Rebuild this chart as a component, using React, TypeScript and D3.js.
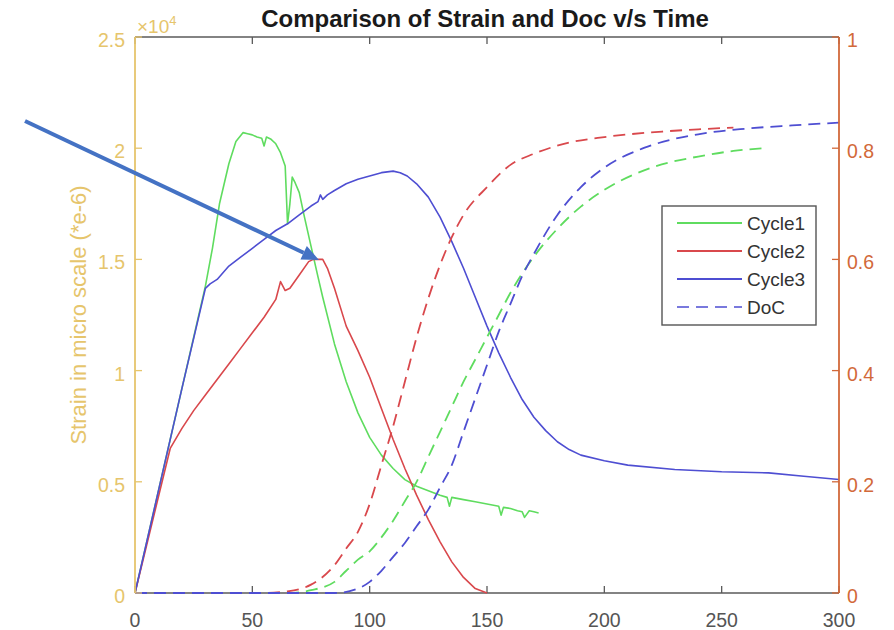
import React from "react";
import * as d3 from "d3";

const title = "Comparison of Strain and Doc v/s Time";
const yLeftLabel = "Strain in micro scale (*e-6)";
const xTicks = [0, 50, 100, 150, 200, 250, 300];
const yLeftTicks = [0, 5000, 10000, 15000, 20000, 25000];
const yLeftTickLabels = ["0", "0.5", "1", "1.5", "2", "2.5"];
const yRightTicks = [0, 0.2, 0.4, 0.6, 0.8, 1];
const yRightTickLabels = ["0", "0.2", "0.4", "0.6", "0.8", "1"];
const legendLabels = ["Cycle1", "Cycle2", "Cycle3", "DoC"];

const cycle1X = [0, 5, 10, 15, 20, 25, 30, 33, 36, 40, 43, 46, 48, 50, 52, 54, 55, 56, 58, 60, 62, 64, 65, 66, 67, 68, 70, 72, 75, 78, 80, 85, 90, 95, 100, 105, 110, 115, 120, 125, 130, 133, 134, 135, 140, 145, 150, 155, 156, 157, 160, 163, 165, 166, 168, 170, 172];
const cycle1Y = [0, 2300, 4600, 6900, 9200, 11500, 13800, 15500, 17500, 19300, 20300, 20700, 20650, 20600, 20500, 20450, 20100, 20500, 20400, 20200, 19800, 19200, 16600, 17500, 18700, 18500, 18000, 17000, 15600, 14200, 13300, 11200, 9500, 8100, 7000, 6200, 5600, 5100, 4800, 4600, 4400, 4300, 3900, 4300, 4200, 4100, 4000, 3900, 3500, 3850, 3800, 3700, 3650, 3400, 3700, 3650, 3600];

const cycle2X = [0, 15, 20, 25, 30, 35, 40, 45, 50, 55, 60, 62, 64, 66, 70, 74, 76, 80, 82, 85, 90, 95, 100, 105, 110, 115, 120, 125, 130, 135, 140, 145, 150];
const cycle2Y = [0, 6500, 7400, 8200, 8900, 9600, 10300, 11000, 11700, 12400, 13200, 14000, 13600, 13700, 14300, 14900, 15000, 15000, 14600, 13700, 12000, 10900, 9700, 8300, 6900, 5600, 4400, 3300, 2300, 1400, 700, 200, 0];

const cycle3X = [0, 10, 20, 30, 32, 35, 40, 45, 50, 55, 60, 65, 70, 75, 78, 79, 80, 82, 85, 90, 95, 100, 105, 110, 113, 116, 120, 125, 130, 135, 140, 145, 150, 155, 160, 165, 170, 175, 180, 185, 190, 200, 210, 230, 250, 270, 285, 300];
const cycle3Y = [0, 4600, 9200, 13700, 13900, 14100, 14700, 15100, 15500, 15900, 16300, 16600, 17000, 17400, 17600, 17900, 17700, 17900, 18100, 18400, 18600, 18750, 18900, 18970, 18900, 18750, 18400, 17800, 16900, 15800, 14600, 13300, 12000, 10800, 9700, 8700, 7900, 7300, 6800, 6450, 6200, 5950, 5750, 5550, 5450, 5400, 5250, 5100];

const doc1X = [0, 65, 75, 85, 90, 95, 100, 105, 110, 115, 120, 125, 130, 135, 140, 145, 150, 155, 160, 170, 180, 190, 200, 220, 240, 255, 268];
const doc1Y = [0, 0, 0.005, 0.02, 0.04, 0.06, 0.075, 0.1, 0.13, 0.165, 0.2, 0.245, 0.29, 0.335, 0.38, 0.42, 0.46, 0.5, 0.54, 0.605, 0.655, 0.695, 0.725, 0.765, 0.785, 0.795, 0.8];

const doc2X = [0, 55, 65, 75, 85, 90, 95, 100, 105, 110, 115, 120, 125, 130, 135, 140, 150, 160, 170, 185, 200, 225, 240, 255];
const doc2Y = [0, 0, 0.003, 0.015, 0.05, 0.08, 0.11, 0.16, 0.23, 0.3, 0.38, 0.46, 0.53, 0.59, 0.64, 0.68, 0.73, 0.77, 0.79, 0.81, 0.82, 0.83, 0.834, 0.837];

const doc3X = [0, 85, 95, 100, 105, 110, 115, 120, 125, 130, 135, 140, 145, 150, 155, 160, 165, 170, 180, 190, 200, 220, 240, 260, 280, 300];
const doc3Y = [0, 0, 0.008, 0.02, 0.04, 0.065, 0.09, 0.12, 0.15, 0.19, 0.23, 0.29, 0.35, 0.41, 0.47, 0.52, 0.57, 0.61, 0.68, 0.73, 0.765, 0.805, 0.825, 0.835, 0.841, 0.846];

const LEFT = 135, RIGHT = 839, TOP = 37, BOTTOM = 593;
const FONT = "'Liberation Sans', Arial, Helvetica, sans-serif";
const GREEN = "#5fdc5f";
const RED = "#d9484c";
const BLUE = "#4e4ed2";
const LEFTC = "#e6c56c";
const RIGHTC = "#d2693a";
const AXC = "#5a5a5a";

export default function App() {
  const x = d3.scaleLinear().domain([0, 300]).range([LEFT, RIGHT]);
  const yL = d3.scaleLinear().domain([0, 25000]).range([BOTTOM, TOP]);
  const yR = d3.scaleLinear().domain([0, 1]).range([BOTTOM, TOP]);

  const mk = (xs: number[], ys: number[], ys2: (v: number) => number, curve: any) =>
    d3.line<number>().x((_, i) => x(xs[i])).y((_, i) => ys2(ys[i])).curve(curve)(ys) || "";

  const solid = [
    { d: mk(cycle1X, cycle1Y, yL, d3.curveLinear), c: GREEN },
    { d: mk(cycle2X, cycle2Y, yL, d3.curveLinear), c: RED },
    { d: mk(cycle3X, cycle3Y, yL, d3.curveLinear), c: BLUE },
  ];
  const dashed = [
    { d: mk(doc1X, doc1Y, yR, d3.curveMonotoneX), c: GREEN },
    { d: mk(doc2X, doc2Y, yR, d3.curveMonotoneX), c: RED },
    { d: mk(doc3X, doc3Y, yR, d3.curveMonotoneX), c: BLUE },
  ];

  const legColors = [GREEN, RED, BLUE, BLUE];
  const lgX = 662, lgY = 206, lgW = 154, lgH = 119;

  // arrow
  const ax0 = 25, ay0 = 121, ax1 = 319, ay1 = 260;
  const ang = Math.atan2(ay1 - ay0, ax1 - ax0);
  const hl = 17, hw = 7.5;
  const bx = ax1 - hl * Math.cos(ang), by = ay1 - hl * Math.sin(ang);
  const p1 = [bx + hw * Math.sin(ang), by - hw * Math.cos(ang)];
  const p2 = [bx - hw * Math.sin(ang), by + hw * Math.cos(ang)];

  return (
    <svg width={894} height={630} style={{ position: "absolute", left: 0, top: 0, background: "#fff" }} fontFamily={FONT}>
      <rect x={0} y={0} width={894} height={630} fill="#fff" />
      {/* title */}
      <text x={(LEFT + RIGHT) / 2 - 2} y={27} textAnchor="middle" fontWeight="bold" fontSize={24} fill="#1a1a1a">{title}</text>

      {/* top & bottom axes */}
      <line x1={LEFT} x2={RIGHT} y1={TOP} y2={TOP} stroke={AXC} strokeWidth={1.6} />
      <line x1={LEFT} x2={RIGHT} y1={BOTTOM} y2={BOTTOM} stroke={AXC} strokeWidth={1.6} />
      {xTicks.map((t) => (
        <g key={"xt" + t}>
          <line x1={x(t)} x2={x(t)} y1={BOTTOM} y2={BOTTOM - 7} stroke={AXC} strokeWidth={1.3} />
          <line x1={x(t)} x2={x(t)} y1={TOP} y2={TOP + 7} stroke={AXC} strokeWidth={1.3} />
          <text x={x(t)} y={627} textAnchor="middle" fontSize={19.5} fill="#555">{t}</text>
        </g>
      ))}

      {/* data lines */}
      {solid.map((s, i) => (
        <path key={"s" + i} d={s.d} fill="none" stroke={s.c} strokeWidth={1.6} strokeLinejoin="round" />
      ))}
      {dashed.map((s, i) => (
        <path key={"d" + i} d={s.d} fill="none" stroke={s.c} strokeWidth={1.8} strokeDasharray="12,7" />
      ))}

      {/* left axis */}
      <line x1={LEFT} x2={LEFT} y1={TOP} y2={BOTTOM} stroke={LEFTC} strokeWidth={1.8} />
      {yLeftTicks.map((t, i) => (
        <g key={"yl" + t}>
          <line x1={LEFT} x2={LEFT + 7} y1={yL(t)} y2={yL(t)} stroke={LEFTC} strokeWidth={1.3} />
          <text x={125} y={yL(t) + 3} textAnchor="end" dominantBaseline="central" fontSize={19.5} fill={LEFTC}>{yLeftTickLabels[i]}</text>
        </g>
      ))}
      <text x={137} y={33} fontSize={19} fill={LEFTC}>×10<tspan fontSize={13} dy={-8}>4</tspan></text>
      <text transform={`translate(78,${(TOP + BOTTOM) / 2}) rotate(-90)`} textAnchor="middle" dominantBaseline="central" fontSize={22} fill={LEFTC}>{yLeftLabel}</text>

      {/* right axis */}
      <line x1={RIGHT} x2={RIGHT} y1={TOP} y2={BOTTOM} stroke={RIGHTC} strokeWidth={1.8} />
      {yRightTicks.map((t, i) => (
        <g key={"yr" + t}>
          <line x1={RIGHT} x2={RIGHT - 7} y1={yR(t)} y2={yR(t)} stroke={RIGHTC} strokeWidth={1.3} />
          <text x={847} y={yR(t) + 3} textAnchor="start" dominantBaseline="central" fontSize={19.5} fill={RIGHTC}>{yRightTickLabels[i]}</text>
        </g>
      ))}

      {/* legend */}
      <rect x={lgX} y={lgY} width={lgW} height={lgH} fill="#fff" stroke="#555" strokeWidth={1.4} />
      {legendLabels.map((l, i) => {
        const yy = 223 + i * 28;
        return (
          <g key={"lg" + l}>
            <line x1={677} x2={742} y1={yy} y2={yy} stroke={legColors[i]} strokeWidth={i === 3 ? 1.6 : 2} strokeDasharray={i === 3 ? "12,7" : undefined} />
            <text x={747} y={yy} dominantBaseline="central" fontSize={19} fill="#333">{l}</text>
          </g>
        );
      })}

      {/* annotation arrow */}
      <line x1={ax0} y1={ay0} x2={bx} y2={by} stroke="#4472c4" strokeWidth={4} />
      <polygon points={`${ax1},${ay1} ${p1[0]},${p1[1]} ${p2[0]},${p2[1]}`} fill="#4472c4" />
    </svg>
  );
}
